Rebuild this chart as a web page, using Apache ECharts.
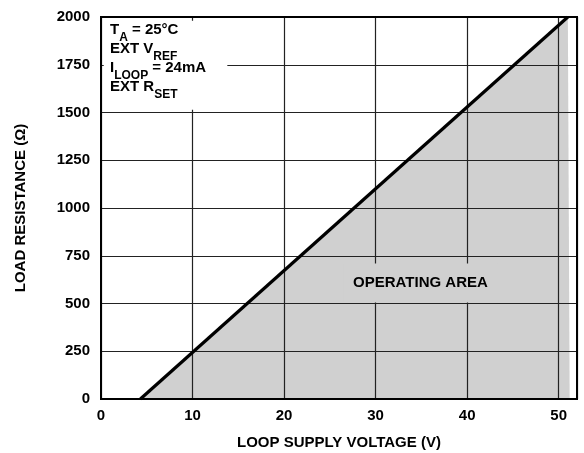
<!DOCTYPE html>
<html>
<head>
<meta charset="utf-8">
<script src="https://cdn.jsdelivr.net/npm/echarts@6/dist/echarts.min.js"></script>
<style>
html,body{margin:0;padding:0;background:#fff;}
#c{width:584px;height:453px;}
</style>
</head>
<body>
<div id="c"></div>
<script>
// Data
const xTicks = [0, 10, 20, 30, 40, 50];
const yTicks = [0, 250, 500, 750, 1000, 1250, 1500, 1750, 2000];
const lineVoltage = [4.3, 51.0];
const lineResistance = [0, 2000];
const areaVoltage = [4.3, 51.0, 51.2, 51.2];
const areaResistance = [0, 2000, 2000, 0];
const areaLabel = 'OPERATING AREA';
const areaLabelPos = [34.9, 607];
const annotationLines = [
  ['T', 'A', ' = 25°C'],
  ['EXT V', 'REF', ''],
  ['I', 'LOOP', ' = 24mA'],
  ['EXT R', 'SET', '']
];
// region (data units) kept clear of grid lines behind the annotation
const legendBoxV = [0.3, 13.8];
const legendBoxR = [1515, 1980];

const FONT = '"Liberation Sans", Arial, Helvetica, sans-serif';

const annoText = annotationLines.map(l => `{m|${l[0]}}{s|${l[1]}}{m|${l[2]}}`).join('\n');

const chart = echarts.init(document.getElementById('c'), null, {renderer: 'canvas'});
chart.setOption({
  animation: false,
  backgroundColor: '#fff',
  grid: {left: 101, right: 7, top: 17, bottom: 54, outerBoundsMode: 'none', containLabel: false,
    show: true, borderColor: '#000', borderWidth: 2, backgroundColor: 'transparent', z: 6},
  xAxis: {
    type: 'value', min: 0, max: 52, interval: 10, z: 3,
    name: 'LOOP SUPPLY VOLTAGE (V)', nameLocation: 'middle', nameGap: 36,
    nameTextStyle: {fontFamily: FONT, fontWeight: 'bold', fontSize: 15, color: '#000'},
    axisLine: {show: false},
    axisTick: {show: false},
    axisLabel: {fontFamily: FONT, fontWeight: 'bold', fontSize: 15, color: '#000', margin: 9,
      formatter: v => xTicks.includes(v) ? String(v) : ''},
    splitLine: {show: true, lineStyle: {color: '#222', width: 1.2}}
  },
  yAxis: {
    type: 'value', min: 0, max: 2000, interval: 250, z: 3,
    name: 'LOAD RESISTANCE (Ω)', nameLocation: 'middle', nameGap: 73,
    nameTextStyle: {fontFamily: FONT, fontWeight: 'bold', fontSize: 15, color: '#000'},
    axisLine: {show: false},
    axisTick: {show: false},
    axisLabel: {fontFamily: FONT, fontWeight: 'bold', fontSize: 15, color: '#000', margin: 11,
      formatter: v => yTicks.includes(v) ? String(v) : ''},
    splitLine: {show: true, lineStyle: {color: '#222', width: 1.2}}
  },
  series: [
    {
      type: 'line', z: 1, silent: true, symbol: 'none',
      data: areaVoltage.map((v, i) => [v, areaResistance[i]]),
      lineStyle: {width: 0, opacity: 0},
      areaStyle: {color: '#d0d0d0', opacity: 1}
    },
    {
      type: 'line', z: 5, silent: true, symbol: 'none',
      data: lineVoltage.map((v, i) => [v, lineResistance[i]]),
      lineStyle: {color: '#000', width: 3.2}
    },
    {
      type: 'scatter', z: 4, silent: true, symbolSize: 0,
      data: [areaLabelPos],
      label: {show: true, position: 'inside', formatter: areaLabel,
        fontFamily: FONT, fontWeight: 'bold', fontSize: 15, color: '#000', opacity: 1,
        backgroundColor: '#d0d0d0', padding: [12, 10]}
    }
  ]
});

const p1 = chart.convertToPixel({gridIndex: 0}, [legendBoxV[0], legendBoxR[1]]);
const p2 = chart.convertToPixel({gridIndex: 0}, [legendBoxV[1], legendBoxR[0]]);
chart.setOption({
  graphic: [
    {
      type: 'rect', z: 4, silent: true,
      shape: {x: p1[0], y: p1[1], width: p2[0] - p1[0], height: p2[1] - p1[1]},
      style: {fill: '#fff'}
    },
    {
      type: 'text', left: 110, top: 22, z: 10,
      style: {
        text: annoText,
        rich: {
          m: {fontFamily: FONT, fontWeight: 'bold', fontSize: 15, lineHeight: 19, color: '#000', verticalAlign: 'top'},
          s: {fontFamily: FONT, fontWeight: 'bold', fontSize: 12, lineHeight: 12, color: '#000', verticalAlign: 'top', padding: [10, 0, 0, 0]}
        }
      }
    }
  ]
});
</script>
</body>
</html>
